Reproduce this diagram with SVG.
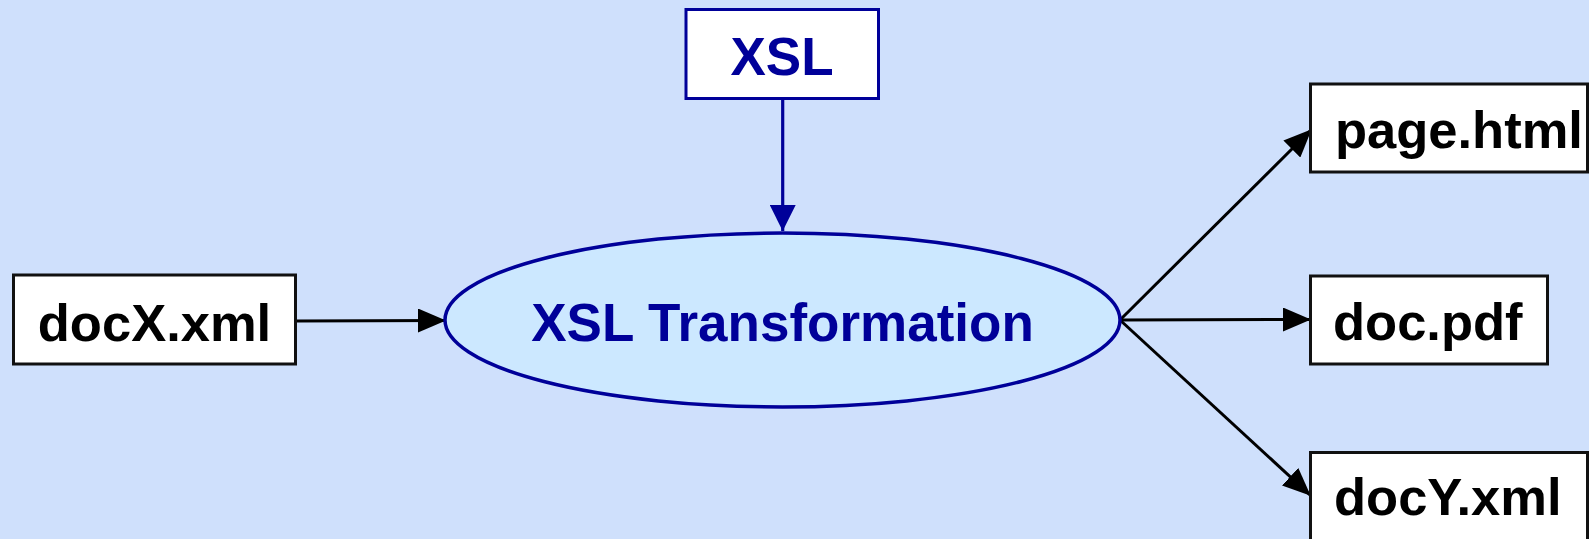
<svg xmlns="http://www.w3.org/2000/svg" width="1589" height="539" viewBox="0 0 1589 539">
<style>
.box{fill:#ffffff;stroke:#111111;stroke-width:3}
.bbox{fill:#ffffff;stroke:#000099;stroke-width:3}
.t{font-family:"Liberation Sans",Arial,sans-serif;font-weight:bold;font-size:52.5px;fill:#000000}
.tb{font-family:"Liberation Sans",Arial,sans-serif;font-weight:bold;font-size:53px;fill:#000099}
.ln{stroke:#000000;stroke-width:3;fill:none}
.lb{stroke:#000099;stroke-width:3.2;fill:none}
</style>
<defs>
<marker id="ah" markerUnits="userSpaceOnUse" markerWidth="28" markerHeight="24" refX="27" refY="12" orient="auto">
<path d="M0,0 L28,12 L0,24 z" fill="#000000"/>
</marker>
<marker id="ahb" markerUnits="userSpaceOnUse" markerWidth="28" markerHeight="26" refX="26" refY="13" orient="auto">
<path d="M0,0 L26,13 L0,26 z" fill="#000099"/>
</marker>
</defs>
<rect x="0" y="0" width="1589" height="539" fill="#CFE0FC"/>
<g id="connectors">
<line class="lb" x1="782.7" y1="99" x2="782.7" y2="231" marker-end="url(#ahb)"/>
<line class="ln" x1="295" y1="321" x2="445" y2="320.5" marker-end="url(#ah)"/>
<line class="ln" x1="1120" y1="320" x2="1311" y2="130" marker-end="url(#ah)"/>
<line class="ln" x1="1120" y1="320" x2="1310" y2="319.5" marker-end="url(#ah)"/>
<line class="ln" x1="1120" y1="320" x2="1310" y2="495" marker-end="url(#ah)"/>
</g>
<g id="xsl">
<rect class="bbox" x="686" y="9.5" width="192.5" height="89"/>
<text class="tb" x="782" y="75" text-anchor="middle">XSL</text>
</g>
<g id="transform">
<ellipse cx="782.5" cy="320" rx="337.5" ry="87" fill="#CCE8FF" stroke="#000099" stroke-width="3.5"/>
<text class="tb" x="782.5" y="340.5" text-anchor="middle">XSL Transformation</text>
</g>
<g id="docx">
<rect class="box" x="13.5" y="275" width="282" height="89"/>
<text class="t" x="154.5" y="341" text-anchor="middle">docX.xml</text>
</g>
<g id="page">
<rect class="box" x="1310.5" y="84" width="277" height="88"/>
<text class="t" x="1335" y="147.5">page.html</text>
</g>
<g id="pdf">
<rect class="box" x="1310.5" y="276" width="237" height="88"/>
<text class="t" x="1333" y="339.5">doc.pdf</text>
</g>
<g id="docy">
<rect class="box" x="1310.5" y="452.5" width="277" height="100"/>
<text class="t" x="1334" y="515">docY.xml</text>
</g>
</svg>
